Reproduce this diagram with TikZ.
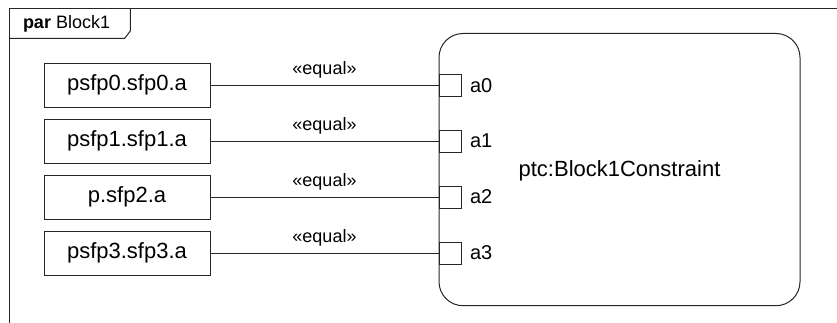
\documentclass[tikz,border=0pt]{standalone}
\usepackage{fontspec}
\setmainfont{Liberation Sans}
\begin{document}
\begin{tikzpicture}[x=1pt,y=-1pt,
  line width=1pt,
  valbox/.style={draw=black!85, minimum width=166pt, minimum height=44pt, inner sep=0pt, font=\fontsize{22}{26}\selectfont},
  portbox/.style={draw=black!85, minimum width=22pt, minimum height=22pt, inner sep=0pt},
  portlabel/.style={anchor=west, inner sep=0pt, font=\fontsize{20}{24}\selectfont},
  conn/.style={draw=black!85},
  stereo/.style={midway, yshift=15pt, inner sep=0pt, font=\fontsize{18}{22}\selectfont},
  framel/.style={draw=black!85}]
\useasboundingbox (0,0) rectangle (837,323);
% frame
\draw[framel] (9,340) -- (9,9) -- (850,9);
\draw[framel] (9,38.3) -- (124.7,38.3) -- (130.3,31) -- (130.3,9);
\node[anchor=base west, inner sep=0pt, font=\fontsize{18}{22}\selectfont] (hdr) at (22.5,28.3) {\textbf{par} Block1};
% constraint block
\draw[draw=black!85, rounded corners=24pt] (439,33.5) rectangle (800,305.7);
\node[inner sep=0pt, font=\fontsize{22}{26}\selectfont] (ptc) at (619.5,170.5) {ptc:Block1Constraint};
% value boxes
\node[valbox] (v0) at (127,85.3) {psfp0.sfp0.a};
\node[valbox] (v1) at (127,141.2) {psfp1.sfp1.a};
\node[valbox] (v2) at (127,197.1) {p.sfp2.a};
\node[valbox] (v3) at (127,253) {psfp3.sfp3.a};
% ports
\node[portbox] (p0) at (450,85.3) {};
\node[portbox] (p1) at (450,141.2) {};
\node[portbox] (p2) at (450,197.1) {};
\node[portbox] (p3) at (450,253) {};
\node[portlabel] (l0) at (469.5,85.3) {a0};
\node[portlabel] (l1) at (469.5,141.2) {a1};
\node[portlabel] (l2) at (469.5,197.1) {a2};
\node[portlabel] (l3) at (469.5,253) {a3};
% connectors
\draw[conn] (v0.east) -- node[stereo] {«equal»} (p0.west);
\draw[conn] (v1.east) -- node[stereo] {«equal»} (p1.west);
\draw[conn] (v2.east) -- node[stereo] {«equal»} (p2.west);
\draw[conn] (v3.east) -- node[stereo] {«equal»} (p3.west);
\end{tikzpicture}
\end{document}
